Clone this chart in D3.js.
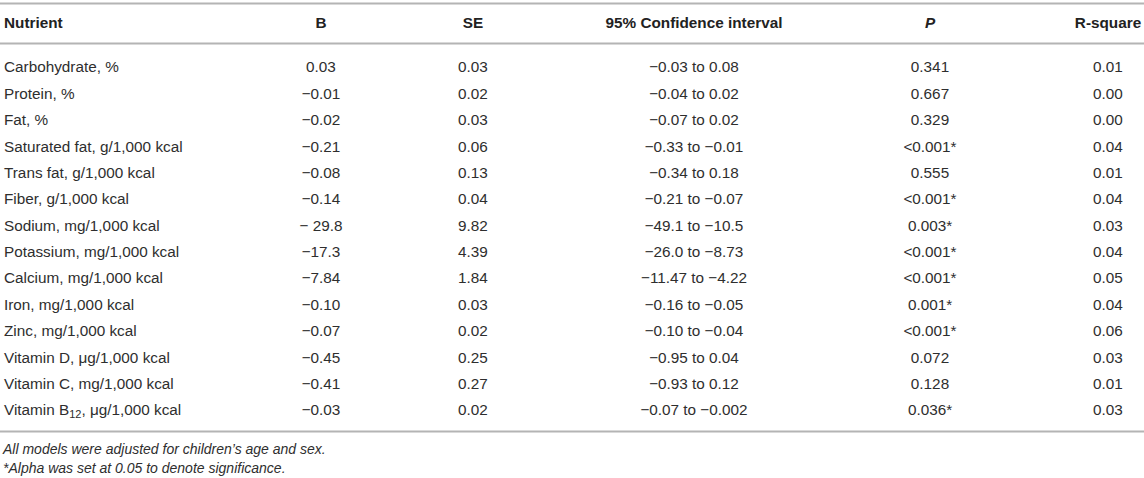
<!DOCTYPE html>
<html>
<head>
<meta charset="utf-8">
<script src="https://cdn.jsdelivr.net/npm/d3@7"></script>
<style>
  body { margin: 0; background: #fff; }
  text { font-family: "Liberation Sans", Arial, Helvetica, sans-serif; }
</style>
</head>
<body>
<div id="table"></div>
<script>
var headers = ["Nutrient", "B", "SE", "95% Confidence interval", "P", "R-square"];
var nutrients = [
  "Carbohydrate, %", "Protein, %", "Fat, %",
  "Saturated fat, g/1,000 kcal", "Trans fat, g/1,000 kcal", "Fiber, g/1,000 kcal",
  "Sodium, mg/1,000 kcal", "Potassium, mg/1,000 kcal", "Calcium, mg/1,000 kcal",
  "Iron, mg/1,000 kcal", "Zinc, mg/1,000 kcal", "Vitamin D, \u03bcg/1,000 kcal",
  "Vitamin C, mg/1,000 kcal", "Vitamin B12, \u03bcg/1,000 kcal"
];
var bValues = ["0.03", "\u22120.01", "\u22120.02", "\u22120.21", "\u22120.08", "\u22120.14",
  "\u2212 29.8", "\u221217.3", "\u22127.84", "\u22120.10", "\u22120.07", "\u22120.45", "\u22120.41", "\u22120.03"];
var seValues = ["0.03", "0.02", "0.03", "0.06", "0.13", "0.04", "9.82", "4.39", "1.84",
  "0.03", "0.02", "0.25", "0.27", "0.02"];
var ciValues = ["\u22120.03 to 0.08", "\u22120.04 to 0.02", "\u22120.07 to 0.02", "\u22120.33 to \u22120.01",
  "\u22120.34 to 0.18", "\u22120.21 to \u22120.07", "\u221249.1 to \u221210.5", "\u221226.0 to \u22128.73",
  "\u221211.47 to \u22124.22", "\u22120.16 to \u22120.05", "\u22120.10 to \u22120.04", "\u22120.95 to 0.04",
  "\u22120.93 to 0.12", "\u22120.07 to \u22120.002"];
var pValues = ["0.341", "0.667", "0.329", "<0.001*", "0.555", "<0.001*", "0.003*", "<0.001*",
  "<0.001*", "0.001*", "<0.001*", "0.072", "0.128", "0.036*"];
var rSquare = ["0.01", "0.00", "0.00", "0.04", "0.01", "0.04", "0.03", "0.04", "0.05",
  "0.04", "0.06", "0.03", "0.01", "0.03"];
var footnotes = ["All models were adjusted for children\u2019s age and sex.",
  "*Alpha was set at 0.05 to denote significance."];

var width = 1144, height = 478;
var textColor = "#2e2e2e", lineColor = "#b4b4b4";

var svg = d3.select("#table").append("svg")
  .attr("width", width)
  .attr("height", height);

// column centres (first column is left aligned)
var x = d3.scaleOrdinal()
  .domain(headers)
  .range([4, 321, 473, 694, 930, 1108]);

var y = d3.scalePoint()
  .domain(d3.range(nutrients.length))
  .range([67, 410]);

function rule(yy){
  svg.append("line")
    .attr("x1", 0).attr("x2", width)
    .attr("y1", yy).attr("y2", yy)
    .attr("stroke", lineColor)
    .attr("stroke-width", 1.8);
}

rule(3.5);
rule(43.5);
rule(431.5);

// header
svg.selectAll(".head")
  .data(headers)
  .enter().append("text")
  .attr("class", "head")
  .attr("x", function(d){ return x(d); })
  .attr("y", 23)
  .attr("dy", "0.35em")
  .attr("text-anchor", function(d, i){ return i == 0 ? "start" : "middle"; })
  .attr("font-size", 15.3)
  .attr("font-weight", "bold")
  .attr("font-style", function(d){ return d == "P" ? "italic" : "normal"; })
  .attr("fill", "#222")
  .text(function(d){ return d; });

// nutrient names
var names = svg.selectAll(".name")
  .data(nutrients)
  .enter().append("text")
  .attr("class", "name")
  .attr("x", x(headers[0]))
  .attr("y", function(d, i){ return y(i); })
  .attr("dy", "0.35em")
  .attr("font-size", 15.3)
  .attr("fill", textColor);

names.each(function(d){
  var t = d3.select(this);
  var m = d.match(/^Vitamin B12(.*)$/);
  if (m) {
    t.append("tspan").text("Vitamin B");
    t.append("tspan").attr("font-size", 11).attr("dy", 3).text("12");
    t.append("tspan").attr("dy", -3).text(m[1]);
  } else {
    t.text(d);
  }
});

var columns = [bValues, seValues, ciValues, pValues, rSquare];
columns.forEach(function(col, c){
  svg.selectAll(".col" + c)
    .data(col)
    .enter().append("text")
    .attr("class", "col" + c)
    .attr("x", x(headers[c + 1]))
    .attr("y", function(d, i){ return y(i); })
    .attr("dy", "0.35em")
    .attr("text-anchor", "middle")
    .attr("font-size", 15.3)
    .attr("fill", textColor)
    .text(function(d){ return d; });
});

svg.selectAll(".foot")
  .data(footnotes)
  .enter().append("text")
  .attr("class", "foot")
  .attr("x", 3)
  .attr("y", function(d, i){ return 449 + i * 19; })
  .attr("dy", "0.35em")
  .attr("font-size", 14)
  .attr("font-style", "italic")
  .attr("fill", textColor)
  .text(function(d){ return d; });
</script>
</body>
</html>
